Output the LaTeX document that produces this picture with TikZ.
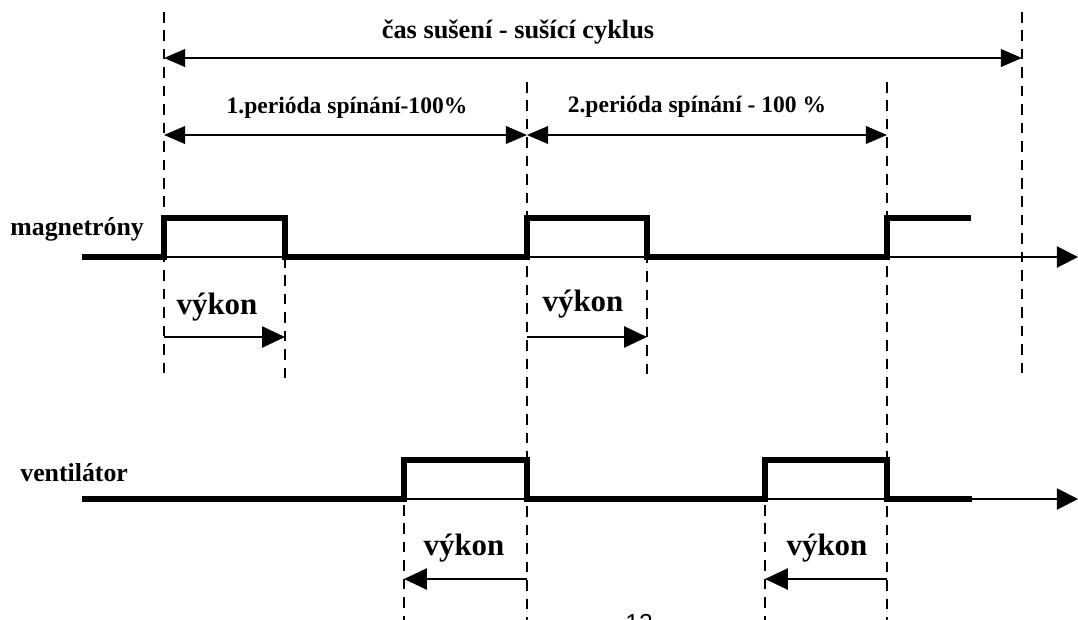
\documentclass[tikz,border=0pt]{standalone}
\usepackage{fontspec}
\setmainfont{Liberation Serif}
\newfontfamily\pagenumfont{Liberation Sans}
\usetikzlibrary{arrows.meta}
\begin{document}
\begin{tikzpicture}[x=0.02cm,y=-0.02cm,
  guide/.style={line width=1.1pt,dash pattern=on 6pt off 4.5pt},
  sig/.style={line width=3.4pt,line join=miter},
  axis/.style={line width=1.1pt,-{Triangle[length=12pt,width=12pt]}},
  dim/.style={line width=1.1pt,{Triangle[length=12pt,width=10pt]}-{Triangle[length=12pt,width=10pt]}},
  pw/.style={line width=1.1pt,-{Triangle[length=13pt,width=12pt]}},
  lbl/.style={font=\bfseries\fontsize{14.7}{16}\selectfont,inner sep=0pt},
  ttl/.style={font=\bfseries\fontsize{15}{17}\selectfont,inner sep=0pt},
  per/.style={font=\bfseries\fontsize{13.4}{15}\selectfont,inner sep=0pt},
  vyk/.style={font=\bfseries\fontsize{17.6}{19}\selectfont,inner sep=0pt}]
\useasboundingbox (0,0) rectangle (1078,619);
% guide coordinates
\coordinate (g1t) at (164,12);   \coordinate (g1b) at (164,378);
\coordinate (g2t) at (285,257);  \coordinate (g2b) at (285,378);
\coordinate (g3t) at (527,82);   \coordinate (g3b) at (527,625);
\coordinate (g4t) at (647,216);  \coordinate (g4b) at (647,378);
\coordinate (g5t) at (887,82);   \coordinate (g5b) at (887,625);
\coordinate (g6t) at (1022,12);  \coordinate (g6b) at (1022,378);
\coordinate (g7t) at (404,505);  \coordinate (g7b) at (404,625);
\coordinate (g8t) at (765,505);  \coordinate (g8b) at (765,625);
% dimension arrows
\coordinate (c0l) at (164,58);  \coordinate (c0r) at (1022,58);
\coordinate (p1l) at (164,135); \coordinate (p1r) at (527,135);
\coordinate (p2l) at (527,135); \coordinate (p2r) at (887,135);
\draw[dim] (c0l) -- (c0r);
\draw[dim] (p1l) -- (p1r);
\draw[dim] (p2l) -- (p2r);
\node[ttl] (title) at (518,32) {čas sušení - sušící cyklus};
\node[per] (per1) at (347,108) {1.perióda spínání-100\%};
\node[per] (per2) at (697,107) {2.perióda spínání - 100 \%};
% magnetrony
\node[lbl,anchor=west] (mag) at (10,229) {magnetróny};
\coordinate (ma0) at (82,257); \coordinate (ma1) at (1078,257);
\draw[axis] (ma0) -- (ma1);
\draw[sig] (ma0) -- (164,257) -- (164,218) -- (285,218) -- (285,257) -- (527,257) -- (527,218) -- (647,218) -- (647,257) -- (887,257) -- (887,218) -- (971,218);
% ventilator
\node[lbl,anchor=west] (ven) at (20,473) {ventilátor};
\coordinate (va0) at (82,499); \coordinate (va1) at (1078,499);
\draw[axis] (va0) -- (va1);
\draw[sig] (va0) -- (404,499) -- (404,460) -- (527,460) -- (527,499) -- (765,499) -- (765,460) -- (887,460) -- (887,499) -- (972,499);
% guides
\foreach \i in {1,...,8} {\draw[guide] (g\i t) -- (g\i b);}
% power arrows
\coordinate (m1a) at (164,337); \coordinate (m1b) at (285,337);
\coordinate (m2a) at (527,337); \coordinate (m2b) at (647,337);
\coordinate (v1a) at (527,579); \coordinate (v1b) at (404,579);
\coordinate (v2a) at (887,579); \coordinate (v2b) at (765,579);
\draw[pw] (m1a) -- (m1b);
\draw[pw] (m2a) -- (m2b);
\draw[pw] (v1a) -- (v1b);
\draw[pw] (v2a) -- (v2b);
\node[vyk] (vk1) at (217,307) {výkon};
\node[vyk] (vk2) at (583,304) {výkon};
\node[vyk] (vk3) at (464,548) {výkon};
\node[vyk] (vk4) at (827,548) {výkon};
\node[font=\pagenumfont\fontsize{14}{16}\selectfont,inner sep=0pt,anchor=base] (pg) at (639,631) {12};
\end{tikzpicture}
\end{document}
